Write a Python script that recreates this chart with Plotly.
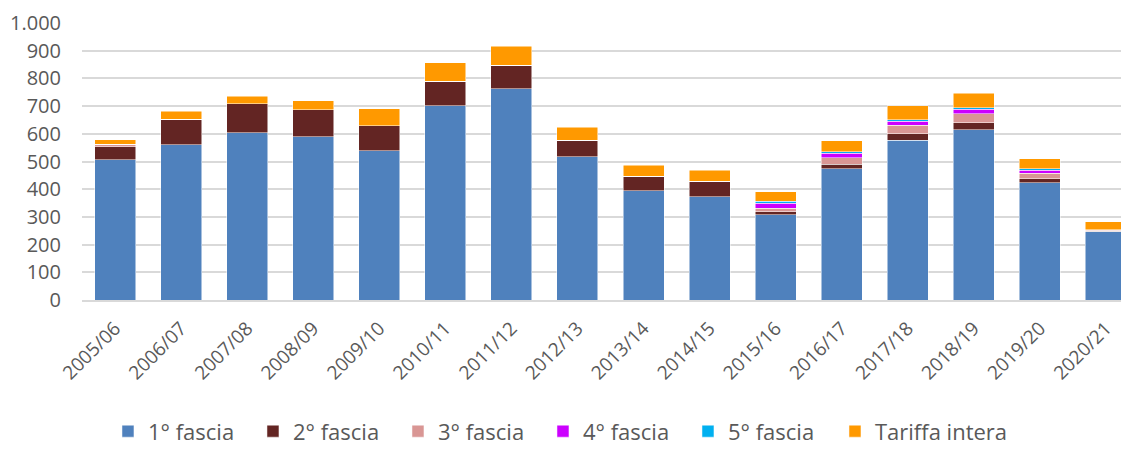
import plotly.graph_objects as go

anni = ['2005/06', '2006/07', '2007/08', '2008/09', '2009/10', '2010/11', '2011/12', '2012/13',
        '2013/14', '2014/15', '2015/16', '2016/17', '2017/18', '2018/19', '2019/20', '2020/21']

fascia1 = [506, 560, 604, 589, 538, 701, 763, 517, 394, 372, 308, 473, 577, 614, 423, 246]
fascia2 = [48, 92, 104, 98, 91, 88, 84, 59, 52, 56, 10, 17, 23, 26, 14, 2]
fascia3 = [9, 0, 0, 0, 0, 0, 0, 0, 0, 0, 14, 23, 30, 32, 21, 3]
fascia4 = [0, 0, 0, 0, 0, 0, 0, 0, 0, 0, 17, 17, 15, 16, 11, 2]
fascia5 = [0, 0, 0, 0, 0, 0, 0, 0, 0, 0, 7, 5, 5, 6, 4, 1]
tariffa_intera = [16, 30, 28, 32, 61, 67, 69, 48, 41, 41, 35, 40, 51, 52, 37, 29]

serie = [
    ('1° fascia', fascia1, '#4F81BD', 'legend'),
    ('2° fascia', fascia2, '#632523', 'legend'),
    ('3° fascia', fascia3, '#D99694', 'legend'),
    ('4° fascia', fascia4, '#CC00FF', 'legend'),
    ('5° fascia', fascia5, '#00B0F0', 'legend'),
    ('Tariffa intera', tariffa_intera, '#FF9900', 'legend2'),
]

fig = go.Figure()
for nome, valori, colore, leg in serie:
    fig.add_trace(go.Bar(
        x=anni, y=valori, name=nome, legend=leg,
        marker=dict(color=colore, line=dict(color='white', width=0.5)),
    ))

font_family = 'Open Sans, sans-serif'
legend_font = dict(size=22, color='#595959')

# the page body adds an 8px offset, so the figure is shifted to compensate
fig.update_layout(
    width=1131, height=441,
    barmode='stack',
    bargap=0.38,
    separators=',.',
    plot_bgcolor='white',
    paper_bgcolor='white',
    margin=dict(l=74, r=0, t=15, b=149),
    font=dict(family=font_family, color='#595959'),
    legend=dict(
        orientation='h', x=0.0884, xanchor='left', xref='container',
        y=0.04, yanchor='middle', yref='container',
        font=legend_font, itemwidth=30, traceorder='normal',
        entrywidth=100,
    ),
    legend2=dict(
        orientation='h', x=0.7312, xanchor='left', xref='container',
        y=0.04, yanchor='middle', yref='container',
        font=legend_font, itemwidth=30,
    ),
)

fig.update_xaxes(
    range=[-0.5, 15.5],
    tickangle=-45,
    tickfont=dict(size=19, color='#595959'),
    showline=True, linecolor='#d9d9d9', linewidth=1.5,
    ticks='', automargin=False, ticklabelstandoff=8,
)

fig.update_yaxes(
    range=[0, 1000],
    dtick=100,
    tickformat=',d',
    tickfont=dict(size=20, color='#595959'),
    showgrid=True, gridcolor='#d9d9d9', gridwidth=1.5,
    zeroline=False, automargin=False,
    ticks='', ticklabelstandoff=20,
)

fig.write_html('out.html')
